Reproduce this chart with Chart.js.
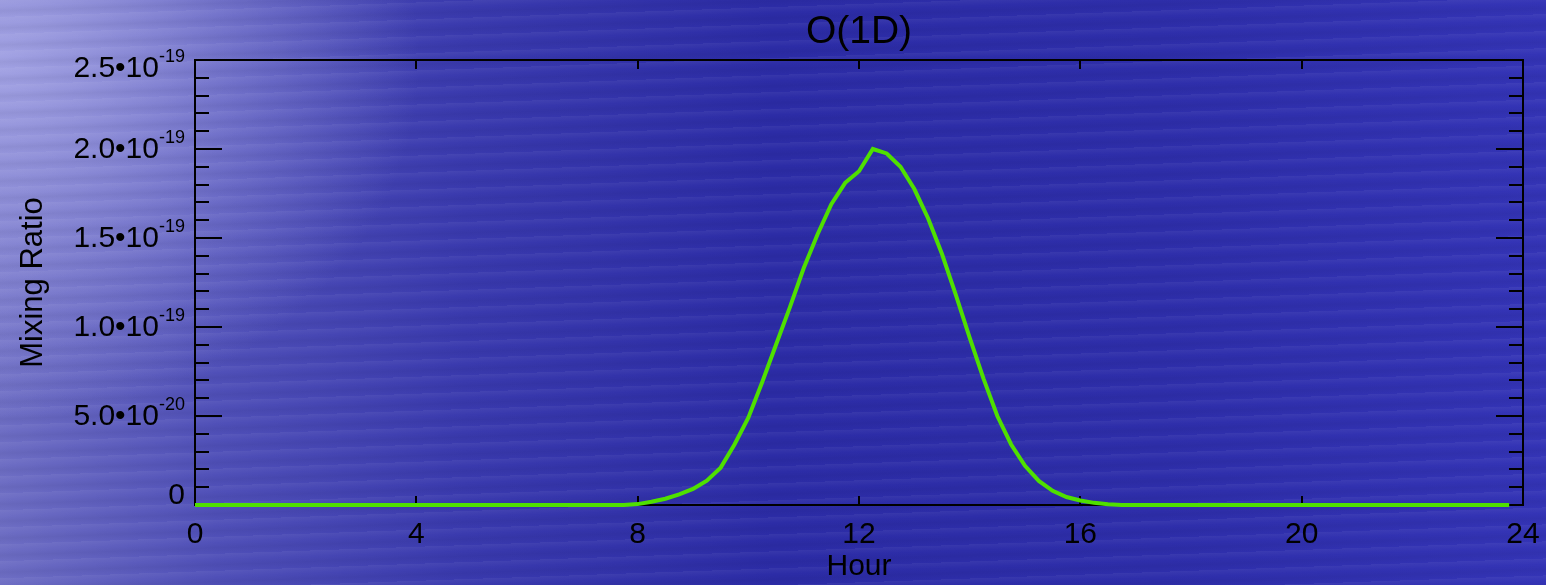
<!DOCTYPE html>
<html>
<head>
<meta charset="utf-8">
<script src="https://cdn.jsdelivr.net/npm/chart.js@4"></script>
<style>
  html, body { margin: 0; padding: 0; }
  body {
    width: 1546px; height: 585px; overflow: hidden;
    background:
      repeating-linear-gradient(178deg, rgba(255,255,255,0.05) 0px, rgba(255,255,255,0) 6px, rgba(0,0,40,0.05) 11px, rgba(255,255,255,0) 17px),
      radial-gradient(ellipse 420px 360px at 0px 60px, rgba(175,175,235,0.8), rgba(175,175,235,0) 100%),
      linear-gradient(to right, #6e6ec4 0%, #5050b8 14%, #3a3aae 30%, #2c2ca6 50%, #2e2eaa 75%, #3434b6 100%);
  }
  #wrap { width: 1546px; height: 585px; }
</style>
</head>
<body>
<div id="wrap"><canvas id="chart" width="1546" height="585"></canvas></div>
<script>
// time of day, hours (15 minute steps)
const hours = [
  0, 0.25, 0.5, 0.75, 1, 1.25, 1.5, 1.75, 2, 2.25, 2.5, 2.75,
  3, 3.25, 3.5, 3.75, 4, 4.25, 4.5, 4.75, 5, 5.25, 5.5, 5.75,
  6, 6.25, 6.5, 6.75, 7, 7.25, 7.5, 7.75, 8, 8.25, 8.5, 8.75,
  9, 9.25, 9.5, 9.75, 10, 10.25, 10.5, 10.75, 11, 11.25, 11.5, 11.75,
  12, 12.25, 12.5, 12.75, 13, 13.25, 13.5, 13.75, 14, 14.25, 14.5, 14.75,
  15, 15.25, 15.5, 15.75, 16, 16.25, 16.5, 16.75, 17, 17.25, 17.5, 17.75,
  18, 18.25, 18.5, 18.75, 19, 19.25, 19.5, 19.75, 20, 20.25, 20.5, 20.75,
  21, 21.25, 21.5, 21.75, 22, 22.25, 22.5, 22.75, 23, 23.25, 23.5, 23.75
];
// O(1D) mixing ratio, in units of 1e-19
const mixingRatioE19 = [
  0, 0, 0, 0, 0, 0, 0, 0, 0, 0, 0, 0,
  0, 0, 0, 0, 0, 0, 0, 0, 0, 0, 0, 0,
  0, 0, 0, 0, 0, 0, 0, 0, 0.005, 0.018, 0.035, 0.06,
  0.09, 0.137, 0.21, 0.34, 0.49, 0.69, 0.90, 1.11, 1.33, 1.52, 1.69, 1.81,
  1.875, 2.00, 1.975, 1.90, 1.775, 1.61, 1.41, 1.18, 0.94, 0.71, 0.50, 0.34,
  0.22, 0.135, 0.08, 0.045, 0.025, 0.012, 0.004, 0, 0, 0, 0, 0,
  0, 0, 0, 0, 0, 0, 0, 0, 0, 0, 0, 0,
  0, 0, 0, 0, 0, 0, 0, 0, 0, 0, 0, 0
];

const xTicks = [0, 4, 8, 12, 16, 20, 24];
const yTicks = [0, 0.5, 1.0, 1.5, 2.0, 2.5];
const yTickMantissa = ['0', '5.0', '1.0', '1.5', '2.0', '2.5'];
const yTickExponent = ['', '-20', '-19', '-19', '-19', '-19'];
const yMinorStep = 0.1;

const FONT = '"Liberation Sans", Arial, Helvetica, sans-serif';

const framePlugin = {
  id: 'idlFrame',
  beforeDatasetsDraw(chart) {
    const { ctx, chartArea: a, scales: { x, y } } = chart;
    ctx.save();
    ctx.strokeStyle = '#000';
    ctx.lineWidth = 2;
    ctx.strokeRect(a.left, a.top, a.right - a.left, a.bottom - a.top);

    ctx.beginPath();
    // y ticks, both sides
    for (let v = 0; v <= 2.5001; v += yMinorStep) {
      const py = Math.round(y.getPixelForValue(v));
      const major = Math.abs(v * 2 - Math.round(v * 2)) < 1e-6;
      const len = major ? 27 : 14;
      ctx.moveTo(a.left, py); ctx.lineTo(a.left + len, py);
      ctx.moveTo(a.right, py); ctx.lineTo(a.right - len, py);
    }
    // x ticks, bottom and top
    xTicks.forEach(h => {
      const px = Math.round(x.getPixelForValue(h));
      ctx.moveTo(px, a.bottom); ctx.lineTo(px, a.bottom - 9);
      ctx.moveTo(px, a.top); ctx.lineTo(px, a.top + 9);
    });
    ctx.stroke();
    ctx.restore();
  },
  afterDraw(chart) {
    const { ctx, chartArea: a, scales: { y } } = chart;
    ctx.save();
    ctx.fillStyle = '#000';

    // title, centred over the plot box
    ctx.textAlign = 'center';
    ctx.textBaseline = 'alphabetic';
    ctx.font = '39px ' + FONT;
    ctx.fillText('O(1D)', (a.left + a.right) / 2, 43);

    ctx.textBaseline = 'middle';
    yTicks.forEach((v, i) => {
      let py = y.getPixelForValue(v);
      py = Math.max(py, a.top + 8);
      py = Math.min(py, a.bottom - 10);
      const right = a.left - 10;
      ctx.font = '18px ' + FONT;
      const expW = ctx.measureText(yTickExponent[i]).width;
      ctx.textAlign = 'right';
      if (yTickExponent[i]) {
        ctx.fillText(yTickExponent[i], right, py - 11);
      }
      ctx.font = '30px ' + FONT;
      const label = yTickExponent[i] ? yTickMantissa[i] + '\u202210' : yTickMantissa[i];
      ctx.fillText(label, right - expW, py + 1);
    });

    // y axis title
    ctx.translate(42, (a.top + a.bottom) / 2);
    ctx.rotate(-Math.PI / 2);
    ctx.textAlign = 'center';
    ctx.textBaseline = 'alphabetic';
    ctx.font = '31px ' + FONT;
    ctx.fillText('Mixing Ratio', 0, 0);
    ctx.restore();
  }
};

new Chart(document.getElementById('chart'), {
  type: 'line',
  data: {
    datasets: [{
      label: 'O(1D)',
      data: hours.map((h, i) => ({ x: h, y: mixingRatioE19[i] })),
      borderColor: '#4fe000',
      borderWidth: 4,
      pointRadius: 0,
      tension: 0,
      clip: false
    }]
  },
  options: {
    responsive: false,
    animation: false,
    layout: { padding: { top: 60, right: 23, left: 0, bottom: 0 } },
    plugins: {
      legend: { display: false },
      tooltip: { enabled: false },
      title: { display: false }
    },
    scales: {
      x: {
        type: 'linear',
        min: 0,
        max: 24,
        afterFit: s => { s.height = 80; s.paddingLeft = 0; s.paddingRight = 0; },
        afterBuildTicks: s => { s.ticks = xTicks.map(v => ({ value: v })); },
        grid: { display: false, drawTicks: false },
        border: { display: false },
        ticks: {
          color: '#000',
          padding: 12,
          maxRotation: 0,
          font: { family: FONT, size: 30 }
        },
        title: {
          display: true,
          text: 'Hour',
          color: '#000',
          padding: { top: 0, bottom: 0 },
          font: { family: FONT, size: 30, lineHeight: 1.2 }
        }
      },
      y: {
        min: 0,
        max: 2.5,
        afterFit: s => { s.width = 195; },
        grid: { display: false, drawTicks: false },
        border: { display: false },
        ticks: { display: false }
      }
    }
  },
  plugins: [framePlugin]
});
</script>
</body>
</html>
